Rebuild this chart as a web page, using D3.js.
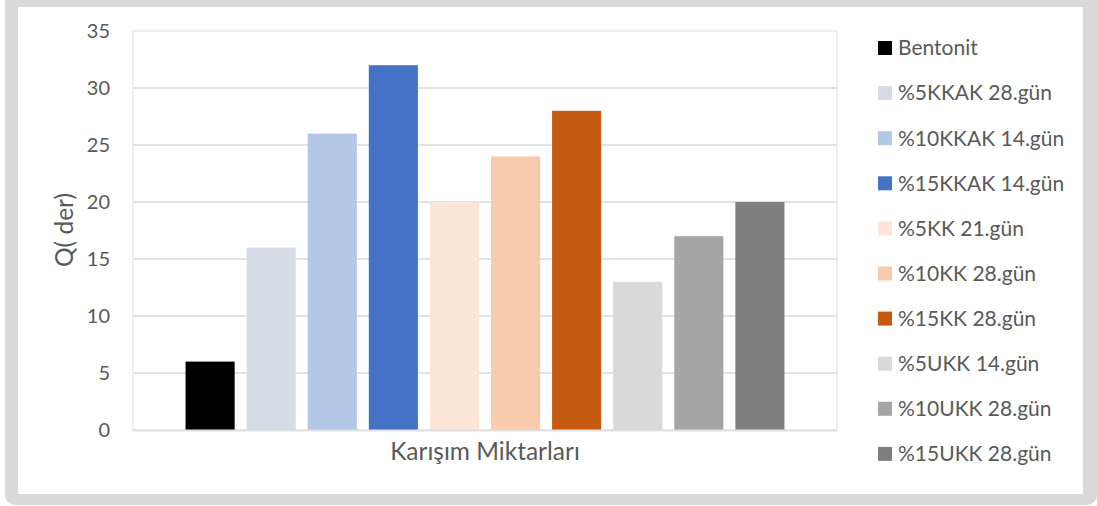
<!DOCTYPE html>
<html>
<head>
<meta charset="utf-8">
<script src="https://cdn.jsdelivr.net/npm/d3@7"></script>
<style>
  html, body { margin: 0; padding: 0; background: #fff; }
  svg text { font-family: Lato, "Open Sans", sans-serif; fill: #595959; }
</style>
</head>
<body>
<div id="chart"></div>
<script>
// Q( der) by mix — one category, ten series
const seriesNames = ["Bentonit", "%5KKAK 28.gün", "%10KKAK 14.gün", "%15KKAK 14.gün", "%5KK 21.gün",
    "%10KK 28.gün", "%15KK 28.gün", "%5UKK 14.gün", "%10UKK 28.gün", "%15UKK 28.gün"];
const seriesValues = [6, 16, 26, 32, 20, 24, 28, 13, 17, 20];
const seriesColors = ["#000000", "#d6dce5", "#b4c7e7", "#4472c4", "#fbe5d6",
    "#f8cbad", "#c55a11", "#d9d9d9", "#a5a5a5", "#7f7f7f"];
const yTicks = [0, 5, 10, 15, 20, 25, 30, 35];
const xTitle = "Karışım Miktarları";
const yTitle = "Q( der)";

const W = 1097, H = 506;
const plot = { left: 133, right: 837, top: 31, bottom: 430 };

const svg = d3.select("#chart").append("svg").attr("width", W).attr("height", H);

// frame
svg.append("rect").attr("x", 5).attr("y", -20).attr("width", W - 5).attr("height", H + 20 - 1)
    .attr("rx", 10).attr("fill", "#d9d9d9");
svg.append("rect").attr("x", 18).attr("y", 7).attr("width", 1065).attr("height", 487).attr("fill", "#fff");

const x = d3.scaleBand().domain(seriesNames).range([plot.left, plot.right])
    .paddingInner(0.196).paddingOuter(0.86);
const y = d3.scaleLinear().domain([0, 35]).range([plot.bottom, plot.top]);

// gridlines
svg.append("g").selectAll("line").data(yTicks.slice(1, -1)).enter().append("line")
    .attr("x1", plot.left).attr("x2", plot.right)
    .attr("y1", d => y(d)).attr("y2", d => y(d))
    .attr("stroke", "#d9d9d9").attr("stroke-width", 1.3);

// plot border
svg.append("rect").attr("x", plot.left).attr("y", plot.top)
    .attr("width", plot.right - plot.left).attr("height", plot.bottom - plot.top)
    .attr("fill", "none").attr("stroke", "#e6e6e6").attr("stroke-width", 1.3);

// bars
svg.append("g").selectAll("rect").data(seriesValues).enter().append("rect")
    .attr("x", (d, i) => x(seriesNames[i])).attr("width", x.bandwidth())
    .attr("y", d => y(d)).attr("height", d => y(0) - y(d))
    .attr("fill", (d, i) => seriesColors[i]);

// x axis line
svg.append("line").attr("x1", plot.left).attr("x2", plot.right)
    .attr("y1", plot.bottom + 0.5).attr("y2", plot.bottom + 0.5)
    .attr("stroke", "#e0e0e0").attr("stroke-width", 2);

// y axis labels
const yAxis = d3.axisLeft(y).tickValues(yTicks).tickSize(0).tickPadding(23);
const ya = svg.append("g").attr("transform", `translate(${plot.left},0)`).call(yAxis);
ya.select(".domain").remove();
ya.selectAll("text").style("font-size", "20px").style("fill", "#595959")
    .style("font-family", "Lato, 'Open Sans', sans-serif");

// titles
svg.append("text").attr("x", 485).attr("y", 460)
    .attr("text-anchor", "middle").style("font-size", "24.5px").text(xTitle);
svg.append("text").attr("transform", `translate(73,230) rotate(-90)`)
    .attr("text-anchor", "middle").style("font-size", "24.5px").text(yTitle);

// legend
const legend = svg.append("g").attr("transform", "translate(878,48)");
const item = legend.selectAll("g").data(seriesNames).enter().append("g")
    .attr("transform", (d, i) => `translate(0,${i * 45.1})`);
item.append("rect").attr("x", 0).attr("y", -7).attr("width", 14).attr("height", 14)
    .attr("fill", (d, i) => seriesColors[i]);
item.append("text").attr("x", 20).attr("y", 0).attr("dy", "0.35em")
    .style("font-size", "21px").text(d => d);
</script>
</body>
</html>
